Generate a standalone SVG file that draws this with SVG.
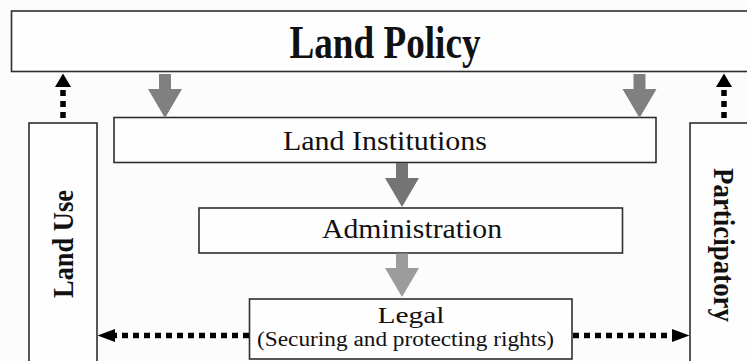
<svg xmlns="http://www.w3.org/2000/svg" width="747" height="361" viewBox="0 0 747 361">
<defs>
<style>
.box{fill:#fefefe;stroke:#2e2e2e;stroke-width:1.6}
.t{font-family:'Liberation Serif','Times New Roman',Times,serif;fill:#111}
.b{font-weight:bold}
.dot{stroke:#000;stroke-width:5.5;stroke-dasharray:6 5;fill:none}
.head{fill:#000}
</style>
</defs>
<rect x="0" y="0" width="747" height="361" fill="#fcfcfc"/>
<g id="land-policy">
<rect class="box" x="11.5" y="11" width="760" height="60.5"/>
<text class="t b" x="385" y="58" font-size="46" text-anchor="middle" textLength="191" lengthAdjust="spacingAndGlyphs">Land Policy</text>
</g>
<g id="land-institutions">
<rect class="box" x="114" y="117.5" width="542" height="45"/>
<text class="t" x="385" y="150" font-size="28" text-anchor="middle" textLength="204" lengthAdjust="spacingAndGlyphs">Land Institutions</text>
</g>
<g id="administration">
<rect class="box" x="199" y="208" width="423.5" height="45"/>
<text class="t" x="412" y="238" font-size="28" text-anchor="middle" textLength="180" lengthAdjust="spacingAndGlyphs">Administration</text>
</g>
<g id="legal">
<rect class="box" x="249.5" y="299" width="322.5" height="60"/>
<text class="t" x="411" y="322.5" font-size="24" text-anchor="middle" textLength="67" lengthAdjust="spacingAndGlyphs">Legal</text>
<text class="t" x="405.5" y="346" font-size="20" text-anchor="middle" textLength="297" lengthAdjust="spacingAndGlyphs">(Securing and protecting rights)</text>
</g>
<g id="land-use">
<rect class="box" x="29" y="123" width="68" height="250"/>
<text class="t b" transform="translate(73,244) rotate(-90)" x="0" y="0" font-size="30" text-anchor="middle" textLength="108" lengthAdjust="spacingAndGlyphs">Land Use</text>
</g>
<g id="participatory">
<rect class="box" x="690" y="123" width="70" height="250"/>
<text class="t b" transform="translate(714,245) rotate(90)" x="0" y="0" font-size="30" text-anchor="middle" textLength="154" lengthAdjust="spacingAndGlyphs">Participatory</text>
</g>
<g id="connectors">
<path d="M159,74 h12 v15 h11 l-17,29 l-17,-29 h11 Z" fill="#808080"/>
<path d="M633.5,74 h12 v15 h11 l-17,29 l-17,-29 h11 Z" fill="#808080"/>
<path d="M396,163 h12 v15 h11 l-17,29 l-17,-29 h11 Z" fill="#747474"/>
<path d="M396,253.5 h12 v14.5 h11 l-17,29 l-17,-29 h11 Z" fill="#9c9c9c"/>
<line class="dot" x1="63" y1="118" x2="63" y2="88"/>
<path class="head" d="M55,87 L63,73.5 L71,87 Z"/>
<line class="dot" x1="724" y1="118" x2="724" y2="88"/>
<path class="head" d="M716,87 L724,73.5 L732,87 Z"/>
<line class="dot" x1="249" y1="335.5" x2="115" y2="335.5"/>
<path class="head" d="M115,329 L97.5,335.5 L115,342 Z"/>
<line class="dot" x1="573" y1="335.5" x2="672" y2="335.5"/>
<path class="head" d="M672,329 L689.5,335.5 L672,342 Z"/>
</g>
</svg>
